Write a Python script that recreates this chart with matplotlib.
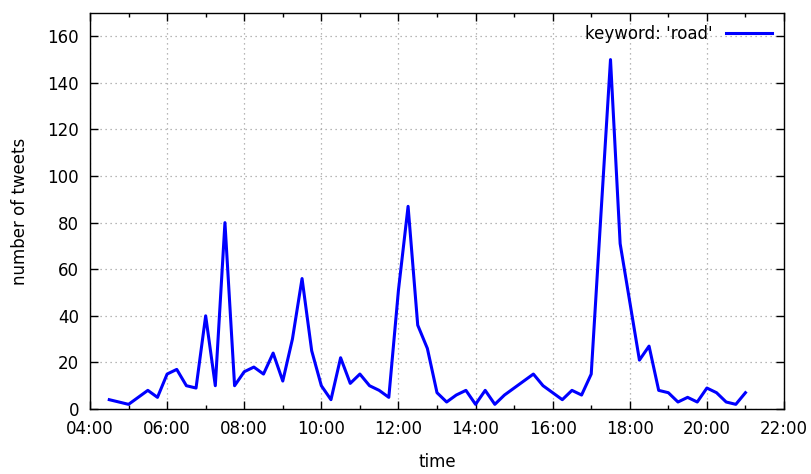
import matplotlib.pyplot as plt
import numpy as np
from matplotlib.ticker import MultipleLocator

plt.rcParams['font.family'] = ['DejaVu Sans']

# time of day in hours, number of tweets
hours = [4.5, 5.0, 5.5, 5.75, 6.0, 6.25, 6.5, 6.75, 7.0, 7.25, 7.5, 7.75,
         8.0, 8.25, 8.5, 8.75, 9.0, 9.25, 9.5, 9.75, 10.0, 10.25, 10.5, 10.75,
         11.0, 11.25, 11.5, 11.75, 12.0, 12.25, 12.5, 12.75, 13.0, 13.25, 13.5,
         13.75, 14.0, 14.25, 14.5, 14.75, 15.0, 15.25, 15.5, 15.75, 16.0, 16.25,
         16.5, 16.75, 17.0, 17.25, 17.5, 17.75, 18.0, 18.25, 18.5, 18.75, 19.0,
         19.25, 19.5, 19.75, 20.0, 20.25, 20.5, 20.75, 21.0]
tweets = [4, 2, 8, 5, 15, 17, 10, 9, 40, 10, 80, 10,
          16, 18, 15, 24, 12, 30, 56, 25, 10, 4, 22, 11,
          15, 10, 8, 5, 51, 87, 36, 26, 7, 3, 6,
          8, 2, 8, 2, 6, 9, 12, 15, 10, 7, 4,
          8, 6, 15, 83, 150, 71, 46, 21, 27, 8, 7,
          3, 5, 3, 9, 7, 3, 2, 7]

xtick_pos = np.arange(4, 23, 2)
xtick_labels = ['%02d:00' % h for h in xtick_pos]

fig = plt.figure(figsize=(8.11, 4.74), dpi=100)
ax = fig.add_axes([90/811, 65/474, 694/811, 396/474])

ax.plot(hours, tweets, color='#0000ff', lw=2.2, label="keyword: 'road'")

ax.set_xlim(4, 22)
ax.set_ylim(0, 170)
ax.set_xticks(xtick_pos)
ax.set_xticklabels(xtick_labels)
ax.xaxis.set_minor_locator(MultipleLocator(1))
ax.set_yticks(np.arange(0, 161, 20))
ax.tick_params(which='both', direction='in', top=True, right=True, labelsize=12, pad=8)
ax.tick_params(which='major', length=6, width=1)
ax.tick_params(which='minor', length=3, width=1)
ax.grid(True, color='#a0a0a0', linestyle=(0, (1, 3)), lw=0.9)
for s in ax.spines.values():
    s.set_linewidth(1)

ax.set_xlabel('time', fontsize=12, labelpad=11)
ax.set_ylabel('number of tweets', fontsize=12, labelpad=13)

leg = ax.legend(loc='upper right', frameon=False, markerfirst=False, fontsize=12,
                handlelength=2.8, borderaxespad=0.3)

fig.savefig('out.png', dpi=100)
